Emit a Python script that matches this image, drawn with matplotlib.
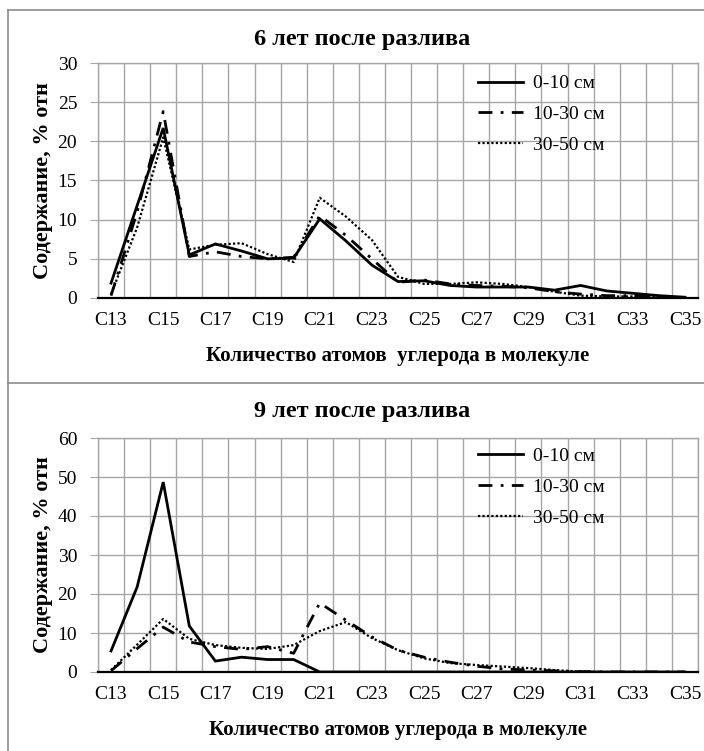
import numpy as np
import matplotlib
matplotlib.use('Agg')
import matplotlib.pyplot as plt
from matplotlib.lines import Line2D
from matplotlib.ticker import MultipleLocator, FixedLocator

plt.rcParams['font.family'] = ['Liberation Serif', 'DejaVu Serif']

# Carbon chain length categories
categories = ['C%d' % n for n in range(13, 36)]
series_labels = ['0-10 см', '10-30 см', '30-50 см']

# 6 years after the spill, % rel.
y6_0_10 = [1.9, 11.8, 21.7, 5.5, 6.9, 6.0, 5.0, 5.1, 10.1, 7.3, 4.2, 2.1,
           2.2, 1.6, 1.4, 1.4, 1.4, 1.0, 1.6, 0.9, 0.6, 0.3, 0.1]
y6_10_30 = [0.3, 11.0, 23.8, 5.3, 5.9, 5.3, 5.0, 5.2, 10.5, 8.0, 5.0, 2.0,
            2.3, 1.8, 1.6, 1.5, 1.3, 0.8, 0.5, 0.3, 0.3, 0.2, 0.0]
y6_30_50 = [0.5, 9.0, 20.5, 6.2, 6.8, 7.0, 5.6, 4.6, 12.8, 10.4, 7.4, 2.7,
            1.8, 1.8, 2.0, 1.8, 1.4, 0.8, 0.3, 0.2, 0.2, 0.1, 0.0]

# 9 years after the spill, % rel.
y9_0_10 = [5.4, 21.8, 48.7, 11.8, 2.8, 3.8, 3.2, 3.2, 0.0, 0.0, 0.0, 0.0,
           0.0, 0.0, 0.0, 0.0, 0.0, 0.0, 0.0, 0.0, 0.0, 0.0, 0.0]
y9_10_30 = [0.3, 6.0, 11.5, 7.7, 6.5, 5.8, 6.5, 4.8, 17.7, 13.3, 9.0, 5.6,
            3.8, 2.5, 1.5, 0.8, 0.5, 0.3, 0.1, 0.0, 0.0, 0.0, 0.0]
y9_30_50 = [0.5, 7.0, 13.6, 8.5, 6.9, 6.2, 5.9, 6.9, 10.5, 12.8, 8.7, 5.6,
            3.5, 2.3, 1.8, 1.4, 1.0, 0.5, 0.1, 0.0, 0.0, 0.0, 0.0]

styles = [
    dict(color='black', lw=2.0, linestyle='-'),
    dict(color='black', lw=2.0, linestyle=(0, (5.0, 3.0, 1.0, 3.0))),
    dict(color='black', lw=1.6, linestyle=(0, (1.0, 1.0))),
]

GRID = '#a6a6a6'
W, H = 704, 751


def draw_panel(fig, rect, series, ymax, ystep, legend_top):
    ax = fig.add_axes(rect)
    x = np.arange(len(categories))
    for vals, st, lab in zip(series, styles, series_labels):
        ax.plot(x, vals, label=lab, solid_joinstyle='miter', **st, zorder=3)

    ax.set_xlim(-0.5, len(categories) - 0.5)
    ax.set_ylim(0, ymax)
    ax.xaxis.set_major_locator(FixedLocator(x[::2]))
    ax.set_xticklabels(categories[::2])
    ax.xaxis.set_minor_locator(FixedLocator(np.arange(len(categories) + 1) - 0.5))
    ax.yaxis.set_major_locator(MultipleLocator(ystep))
    ax.grid(True, which='minor', axis='x', color=GRID, lw=1.0)
    ax.grid(True, which='major', axis='y', color=GRID, lw=1.0)
    ax.tick_params(axis='x', which='both', length=0, labelsize=14, pad=10)
    ax.tick_params(axis='y', length=6, color=GRID, labelsize=14, pad=9)
    for side in ('left', 'top', 'right'):
        ax.spines[side].set_color(GRID)
        ax.spines[side].set_linewidth(1.0)
    ax.spines['bottom'].set_color('black')
    ax.spines['bottom'].set_linewidth(1.6)
    ax.spines['bottom'].set_zorder(4)

    ax.set_ylabel('Содержание, % отн', fontsize=16, fontweight='bold', labelpad=3)
    ax.legend(loc='upper left', bbox_to_anchor=(0.633, legend_top), frameon=False,
              fontsize=14, handlelength=2.35, handletextpad=0.5,
              labelspacing=0.68, borderpad=0, borderaxespad=0)
    return ax


fig = plt.figure(figsize=(W / 100, H / 100), dpi=100)

ax1 = draw_panel(fig, [98 / W, 1 - 298 / H, 600 / W, 235 / H],
                 [y6_0_10, y6_10_30, y6_30_50], 30, 5, 0.95)
ax1.set_xlabel('Количество атомов  углерода в молекуле', fontsize=15,
               fontweight='bold', labelpad=12)
fig.text(362 / W, 1 - 40 / H, '6 лет после разлива', ha='center', va='center',
         fontsize=17.5, fontweight='bold')

ax2 = draw_panel(fig, [98 / W, 1 - 672 / H, 600 / W, 234 / H],
                 [y9_0_10, y9_10_30, y9_30_50], 60, 10, 0.96)
ax2.set_xlabel('Количество атомов углерода в молекуле', fontsize=15,
               fontweight='bold', labelpad=12)
fig.text(362 / W, 1 - 411 / H, '9 лет после разлива', ha='center', va='center',
         fontsize=17.5, fontweight='bold')

# chart area borders
border = dict(color='#8c8c8c', lw=1.2, transform=fig.transFigure)
fig.add_artist(Line2D([8 / W, 8 / W], [0, 1 - 10 / H], **border))
fig.add_artist(Line2D([8 / W, 1], [1 - 10 / H, 1 - 10 / H], **border))
fig.add_artist(Line2D([8 / W, 1], [1 - 383 / H, 1 - 383 / H], **border))

fig.savefig('out.png', dpi=100)
